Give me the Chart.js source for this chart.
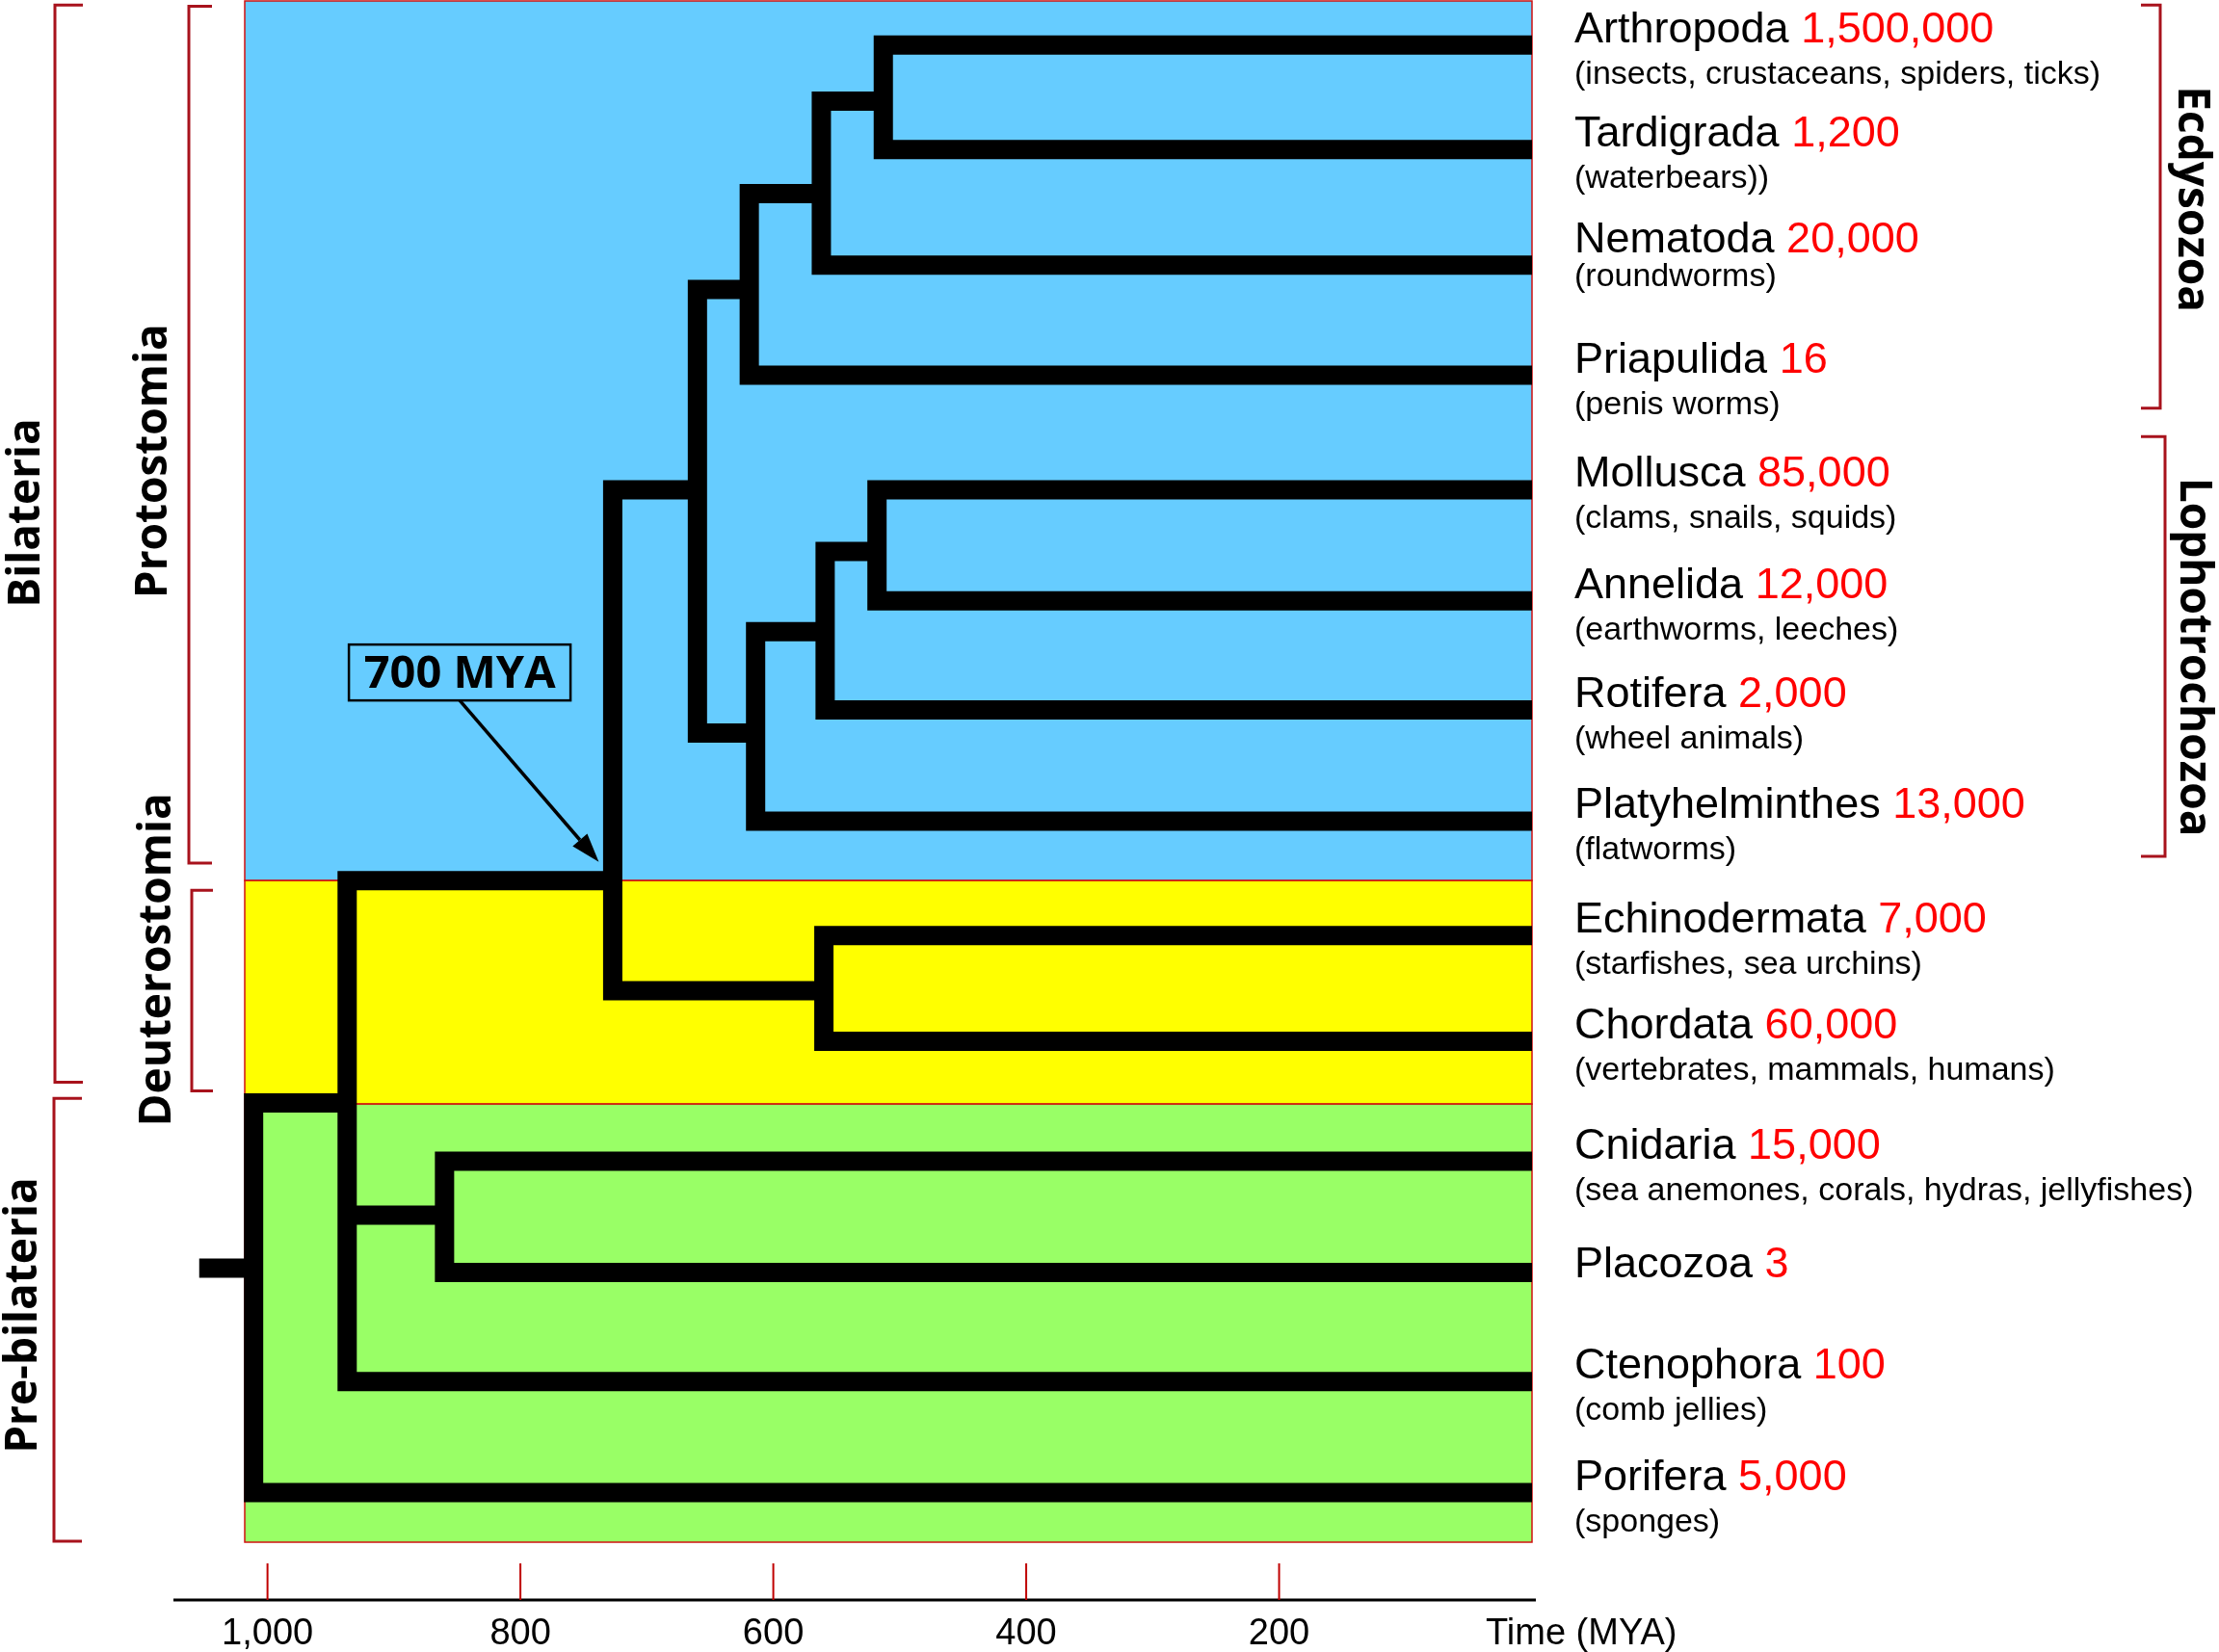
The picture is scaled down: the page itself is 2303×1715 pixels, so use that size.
<!DOCTYPE html>
<html>
<head>
<meta charset="utf-8">
<title>Animal phylogeny</title>
<script src="https://cdn.jsdelivr.net/npm/chart.js@4.4.0/dist/chart.umd.min.js"></script>
<style>
  html, body { margin: 0; padding: 0; background: #fff; }
  #wrap { width: 2303px; height: 1715px; }
</style>
</head>
<body>
<div id="wrap"><canvas id="tree" width="2303" height="1715"></canvas></div>
<script>
// tips, top to bottom
const taxa = ["Arthropoda", "Tardigrada", "Nematoda", "Priapulida", "Mollusca", "Annelida", "Rotifera",
    "Platyhelminthes", "Echinodermata", "Chordata", "Cnidaria", "Placozoa", "Ctenophora", "Porifera"];
const speciesCounts = [1500000, 1200, 20000, 16, 85000, 12000, 2000, 13000, 7000, 60000, 15000, 3, 100, 5000];
const commonNames = ["(insects, crustaceans, spiders, ticks)", "(waterbears))", "(roundworms)", "(penis worms)",
    "(clams, snails, squids)", "(earthworms, leeches)", "(wheel animals)", "(flatworms)",
    "(starfishes, sea urchins)", "(vertebrates, mammals, humans)",
    "(sea anemones, corals, hydras, jellyfishes)", "", "(comb jellies)", "(sponges)"];
// row of each tip (0 = top of the plot, 14 = bottom)
const tipRows = [0.40, 1.35, 2.40, 3.40, 4.44, 5.45, 6.44, 7.45, 8.49, 9.45, 10.54, 11.55, 12.54, 13.55];

// internal nodes: age (MYA), row where the parent branch joins, children top to bottom
const nodeNames = ["Metazoa", "Eumetazoa", "CnidPlac", "Bilateria", "Deuterostomia", "Protostomia",
    "Ecdysozoa", "NemaPan", "Panarthropoda", "Lophotrochozoa", "MolAnnRot", "MolAnn"];
const nodeAges = [1011, 937, 860, 727, 560, 660, 619, 562, 513, 614, 559, 518];
const nodeRows = [11.51, 10.01, 11.03, 7.99, 8.99, 4.44, 2.62, 1.75, 0.91, 6.65, 5.73, 5.00];
const nodeChildren = [
    ["Eumetazoa", "Porifera"],
    ["Bilateria", "CnidPlac", "Ctenophora"],
    ["Cnidaria", "Placozoa"],
    ["Protostomia", "Deuterostomia"],
    ["Echinodermata", "Chordata"],
    ["Ecdysozoa", "Lophotrochozoa"],
    ["NemaPan", "Priapulida"],
    ["Panarthropoda", "Nematoda"],
    ["Arthropoda", "Tardigrada"],
    ["MolAnnRot", "Platyhelminthes"],
    ["MolAnn", "Rotifera"],
    ["Mollusca", "Annelida"]
];
const stemAge = 1054;

// coloured bands behind the tree
const bandRows = [0, 7.99, 10.02, 14];
const bandColors = ["#66ccff", "#ffff00", "#99ff66"];

const timeTicks = [1000, 800, 600, 400, 200];
const timeTitle = "Time (MYA)";

// clade brackets: [top row, bottom row]
const leftGroups = ["Bilateria", "Pre-bilateria", "Protostomia", "Deuterostomia"];
const leftGroupRows = [[0.02, 9.83], [9.95, 14], [0.03, 7.84], [8.06, 9.91]];
const rightGroups = ["Ecdysozoa", "Lophotrochozoa"];
const rightGroupRows = [[0.02, 3.70], [3.94, 7.77]];

const calloutText = "700 MYA";
const calloutAt = [848, 6.10];
const calloutTarget = [738, 7.82];

// ---- layout (pixels) ----
const W = 2303, H = 1715;
const plotBox = { left: 254, right: 1590, top: 1, bottom: 1601 };
const bracketRed = "#a8121c";
const leftBracketX = [[57, 86], [56, 85], [196, 220], [199, 221]];
const leftLabelX = [41, 38, 173, 177];
const leftLabelRows = [4.65, 11.94, 4.18, 8.71];
const rightBracketX = [[2242, 2222], [2247, 2222]];
const rightLabelX = [2261, 2263];
const rightLabelRows = [1.80, 5.96];
const axisBox = { y: 1661, left: 180, right: 1594, tickTop: 1623, labelY: 1707 };
const labelX = 1634;

const endOf = name => {
    const n = nodeNames.indexOf(name);
    if (n >= 0) return { x: nodeAges[n], y: nodeRows[n] };
    return { x: 0, y: tipRows[taxa.indexOf(name)] };
};

const datasets = [];
nodeNames.forEach((name, i) => {
    const kids = nodeChildren[i].map(endOf);
    const first = kids[0];
    const last = kids[kids.length - 1];
    datasets.push({
        label: name,
        data: [first, { x: nodeAges[i], y: first.y }, { x: nodeAges[i], y: last.y }, last]
    });
    kids.slice(1, -1).forEach(k => {
        datasets.push({ label: name, data: [{ x: nodeAges[i], y: k.y }, k] });
    });
});
datasets.push({ label: "stem", data: [{ x: stemAge, y: nodeRows[0] }, { x: nodeAges[0], y: nodeRows[0] }] });

const bandsPlugin = {
    id: "bands",
    beforeDatasetsDraw(chart) {
        const { ctx, chartArea, scales: { y } } = chart;
        ctx.save();
        bandColors.forEach((color, i) => {
            const top = y.getPixelForValue(bandRows[i]);
            const bottom = y.getPixelForValue(bandRows[i + 1]);
            ctx.fillStyle = color;
            ctx.fillRect(chartArea.left, top, chartArea.right - chartArea.left, bottom - top);
            ctx.strokeStyle = "#d01010";
            ctx.lineWidth = 1.5;
            ctx.strokeRect(chartArea.left, top, chartArea.right - chartArea.left, bottom - top);
        });
        ctx.restore();
    }
};

const drawBracket = (ctx, x, tickX, top, bottom) => {
    ctx.beginPath();
    ctx.moveTo(tickX, top);
    ctx.lineTo(x, top);
    ctx.lineTo(x, bottom);
    ctx.lineTo(tickX, bottom);
    ctx.stroke();
};

const decorPlugin = {
    id: "decor",
    afterDatasetsDraw(chart) {
        const { ctx, scales: { x, y } } = chart;
        ctx.save();

        // time axis
        ctx.strokeStyle = "#000";
        ctx.lineWidth = 3;
        ctx.beginPath();
        ctx.moveTo(axisBox.left, axisBox.y);
        ctx.lineTo(axisBox.right, axisBox.y);
        ctx.stroke();
        ctx.strokeStyle = "#c00000";
        ctx.lineWidth = 2;
        ctx.fillStyle = "#000";
        ctx.font = '38px "Liberation Sans"';
        ctx.textAlign = "center";
        ctx.textBaseline = "alphabetic";
        timeTicks.forEach(t => {
            const px = x.getPixelForValue(t);
            ctx.beginPath();
            ctx.moveTo(px, axisBox.tickTop);
            ctx.lineTo(px, axisBox.y);
            ctx.stroke();
            ctx.fillText(t.toLocaleString("en-US"), px, axisBox.labelY);
        });
        ctx.textAlign = "left";
        ctx.fillText(timeTitle, x.getPixelForValue(0) - 48, axisBox.labelY);

        // tip labels
        taxa.forEach((name, i) => {
            let base = y.getPixelForValue(tipRows[i]) - 3;
            let sub = base + 43;
            if (name === "Nematoda") { base -= 10; sub -= 18; }
            if (name === "Placozoa") { base += 8; }
            ctx.font = '45px "Liberation Sans"';
            ctx.fillStyle = "#000";
            ctx.fillText(name, labelX, base);
            const w = ctx.measureText(name + " ").width;
            ctx.fillStyle = "#ff0000";
            ctx.fillText(speciesCounts[i].toLocaleString("en-US"), labelX + w, base);
            if (commonNames[i]) {
                ctx.font = '34px "Liberation Sans"';
                ctx.fillStyle = "#000";
                ctx.fillText(commonNames[i], labelX, sub);
            }
        });

        // clade brackets
        ctx.strokeStyle = bracketRed;
        ctx.lineWidth = 3;
        ctx.font = 'bold 46px "Open Sans"';
        ctx.fillStyle = "#000";
        ctx.textAlign = "center";
        leftGroups.forEach((g, i) => {
            const [bx, tx] = leftBracketX[i];
            drawBracket(ctx, bx, tx, y.getPixelForValue(leftGroupRows[i][0]) + 2, y.getPixelForValue(leftGroupRows[i][1]) - 1);
            ctx.save();
            ctx.translate(leftLabelX[i], y.getPixelForValue(leftLabelRows[i]));
            ctx.rotate(-Math.PI / 2);
            ctx.fillText(g, 0, 0);
            ctx.restore();
        });
        rightGroups.forEach((g, i) => {
            const [bx, tx] = rightBracketX[i];
            drawBracket(ctx, bx, tx, y.getPixelForValue(rightGroupRows[i][0]) + 2, y.getPixelForValue(rightGroupRows[i][1]));
            ctx.save();
            ctx.translate(rightLabelX[i], y.getPixelForValue(rightLabelRows[i]));
            ctx.rotate(Math.PI / 2);
            ctx.fillText(g, 0, 0);
            ctx.restore();
        });

        // 700 MYA callout
        const cx = x.getPixelForValue(calloutAt[0]);
        const cy = y.getPixelForValue(calloutAt[1]);
        const bw = 230, bh = 58;
        ctx.strokeStyle = "#000";
        ctx.lineWidth = 2.5;
        ctx.strokeRect(cx - bw / 2, cy - bh / 2, bw, bh);
        ctx.font = 'bold 47px "Open Sans"';
        ctx.textBaseline = "middle";
        ctx.fillText(calloutText, cx, cy + 2);

        const ax = x.getPixelForValue(calloutTarget[0]);
        const ay = y.getPixelForValue(calloutTarget[1]);
        const sx = cx, sy = cy + bh / 2;
        const ang = Math.atan2(ay - sy, ax - sx);
        const headLen = 30, headHalf = 10;
        const hx = ax - headLen * Math.cos(ang);
        const hy = ay - headLen * Math.sin(ang);
        ctx.lineWidth = 3.5;
        ctx.beginPath();
        ctx.moveTo(sx, sy);
        ctx.lineTo(hx, hy);
        ctx.stroke();
        ctx.beginPath();
        ctx.moveTo(ax, ay);
        ctx.lineTo(hx + headHalf * Math.sin(ang), hy - headHalf * Math.cos(ang));
        ctx.lineTo(hx - headHalf * Math.sin(ang), hy + headHalf * Math.cos(ang));
        ctx.closePath();
        ctx.fill();

        ctx.restore();
    }
};

new Chart(document.getElementById("tree"), {
    type: "scatter",
    data: { datasets },
    options: {
        responsive: false,
        devicePixelRatio: 1,
        animation: false,
        layout: {
            padding: { left: plotBox.left, right: W - plotBox.right, top: plotBox.top, bottom: H - plotBox.bottom }
        },
        elements: {
            point: { radius: 0, hoverRadius: 0 },
            line: { borderWidth: 20, borderColor: "#000", borderJoinStyle: "miter", borderCapStyle: "butt", tension: 0, fill: false }
        },
        datasets: {
            scatter: { showLine: true, clip: false, borderColor: "#000", borderWidth: 20 }
        },
        scales: {
            x: { type: "linear", reverse: true, min: 0, max: 1018, display: false },
            y: { type: "linear", reverse: true, min: 0, max: 14, display: false }
        },
        plugins: {
            legend: { display: false },
            tooltip: { enabled: false }
        }
    },
    plugins: [bandsPlugin, decorPlugin]
});
</script>
</body>
</html>
